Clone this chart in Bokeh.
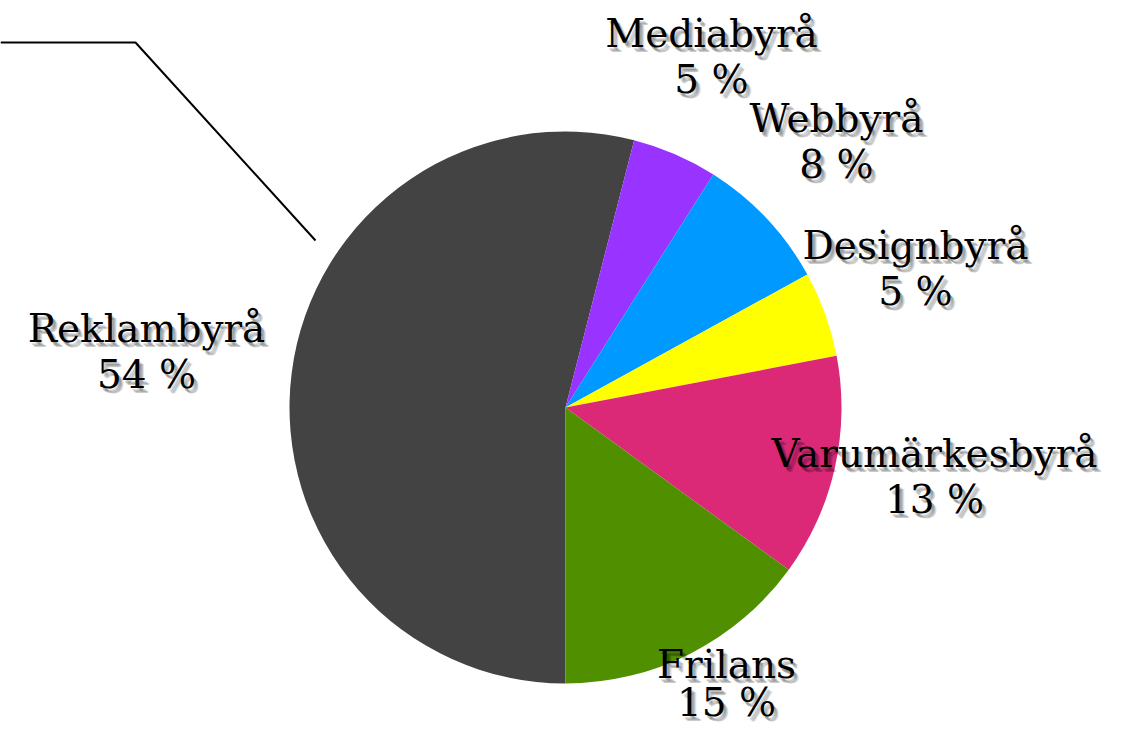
import math
from bokeh.plotting import figure
from bokeh.models import Range1d, ColumnDataSource
from bokeh.core.properties import value
from bokeh.embed import file_html
from bokeh.resources import INLINE

# ---- data ----
categories = ["Reklambyrå", "Mediabyrå", "Webbyrå", "Designbyrå", "Varumärkesbyrå", "Frilans"]
shares = [54, 5, 8, 5, 13, 15]
colors = ["#434343", "#9933FF", "#0099FF", "#FFFF00", "#DB2877", "#4F8F00"]

# ---- layout (image pixel coordinates) ----
W, H = 1113, 733
CX, CY, R = 565, 407, 276
START_CLOCK_DEG = 180.0  # Reklambyrå starts at 6 o'clock, going clockwise
label_pos = {
    "Reklambyrå": (146, 328),
    "Mediabyrå": (711, 33),
    "Webbyrå": (836, 118),
    "Designbyrå": (915, 245),
    "Varumärkesbyrå": (934, 453),
    "Frilans": (726, 664),
}
LINE_GAP = 46
FONT = "DejaVu Serif"
FSIZE = "39px"

p = figure(width=W, height=H, output_backend="svg", toolbar_location=None,
           x_range=Range1d(0, W), y_range=Range1d(-H, 0),
           min_border=0)
p.axis.visible = False
p.grid.visible = False
p.outline_line_color = None
p.background_fill_color = "white"
p.border_fill_color = "white"

total = float(sum(shares))
starts, ends = [], []
acc = START_CLOCK_DEG
for s in shares:
    a0 = acc
    a1 = acc + 360.0 * s / total
    starts.append(math.radians(90 - a1))
    ends.append(math.radians(90 - a0))
    acc = a1

src = ColumnDataSource(dict(start=starts, end=ends, color=colors))
p.wedge(x=CX, y=-CY, radius=R, start_angle="start", end_angle="end",
        fill_color="color", line_color=None, source=src)

# leader line for Reklambyrå
p.line(x=[0, 135, 315], y=[-42, -42, -240], line_color="black", line_width=2)

names_x, names_y, pct_x, pct_y, names, pcts = [], [], [], [], [], []
for c, s in zip(categories, shares):
    x, y = label_pos[c]
    names_x.append(x); names_y.append(-y); names.append(c)
    gap = LINE_GAP if c != "Frilans" else 38
    pct_x.append(x); pct_y.append(-(y + gap)); pcts.append(f"{s} %")

tx = names_x + pct_x
ty = names_y + pct_y
tt = names + pcts

# soft shadow
for (dx, dy, a) in [(2, 3, 0.15), (3, 4, 0.15), (4, 5, 0.13), (5, 5, 0.1)]:
    p.text(x=[v + dx for v in tx], y=[v - dy for v in ty], text=tt,
           text_font=value(FONT), text_font_size=FSIZE, text_color="black",
           text_alpha=a, text_align="center", text_baseline="middle")
p.text(x=tx, y=ty, text=tt, text_font=value(FONT), text_font_size=FSIZE,
       text_color="black", text_align="center", text_baseline="middle")

open("out.html", "w").write(file_html(p, INLINE))
